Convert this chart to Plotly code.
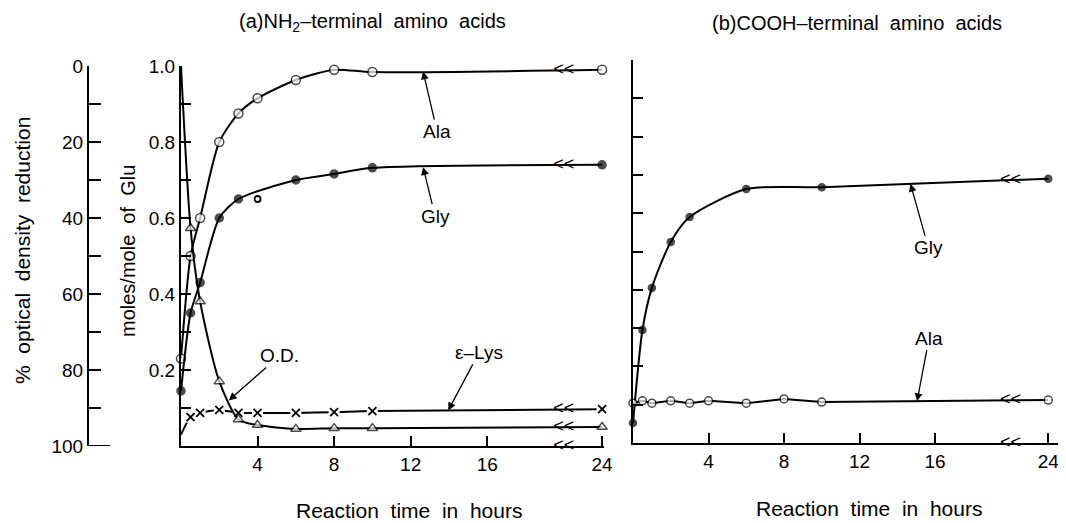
import numpy as np
import plotly.graph_objects as go

# ---- data ---------------------------------------------------------------
# (a) NH2-terminal amino acids, moles/mole of Glu
ALA_A_HOURS = [0, 0.5, 1, 2, 3, 4, 6, 8, 10, 24]
ALA_A = [0.23, 0.50, 0.60, 0.80, 0.875, 0.915, 0.963, 0.99, 0.984, 0.99]

GLY_A_HOURS = [0, 0.5, 1, 2, 3, 6, 8, 10, 24]
GLY_A = [0.145, 0.35, 0.43, 0.60, 0.65, 0.70, 0.716, 0.732, 0.74]
GLY_A_STRAY_HOURS = [4]
GLY_A_STRAY = [0.65]

LYS_HOURS = [0, 0.5, 1, 2, 3, 4, 6, 8, 10, 24]
LYS = [0.03, 0.076, 0.087, 0.095, 0.087, 0.087, 0.087, 0.089, 0.092, 0.097]

# (a) % optical density reduction (scale drawn on the far left)
OD_HOURS = [0, 0.5, 1, 2, 3, 4, 6, 8, 10, 24]
OD = [0, 42.7, 62, 83, 93, 94.5, 95.5, 95.3, 95.3, 95]

# (b) COOH-terminal amino acids
GLY_B_HOURS = [0, 0.5, 1, 2, 3, 6, 10, 24]
GLY_B = [0.052, 0.295, 0.405, 0.525, 0.59, 0.663, 0.668, 0.69]

ALA_B_HOURS = [0, 0.5, 1, 2, 3, 4, 6, 8, 10, 24]
ALA_B = [0.104, 0.11, 0.104, 0.11, 0.104, 0.11, 0.104, 0.115, 0.107, 0.112]

TICK_HOURS = [4, 8, 12, 16, 24]
MOLE_TICKS = [0.1, 0.2, 0.3, 0.4, 0.5, 0.6, 0.7, 0.8, 0.9, 1.0]
MOLE_LABELS = ["", "0.2", "", "0.4", "", "0.6", "", "0.8", "", "1.0"]
OD_TICKS = [0, 10, 20, 30, 40, 50, 60, 70, 80, 90, 100]
OD_LABELS = ["0", "", "20", "", "40", "", "60", "", "80", "", "100"]

# broken time axis: everything past BREAK_H is squeezed
BREAK_H = 20
SQUEEZE = 0.5
X_END_A = 22.1
X_END_B = 22.94

FONT = "Liberation Sans, Arial, sans-serif"
# page body keeps its default 8px margin, so the figure is shrunk to fit
OFF = 8
W, H = 1066 - OFF, 523 - OFF

# panel geometry (pixels in the 1066x523 window)
A_LEFT, A_RIGHT, A_TOP, A_BOTTOM = 181, 604, 66, 446
B_LEFT, B_TOP, B_BOTTOM = 633, 60, 443
OD_AXIS_X = 88
TICK_LEN = 10


def broken(hours):
    """Map real hours onto the broken x scale."""
    t = np.asarray(hours, dtype=float)
    return np.where(t <= BREAK_H, t, BREAK_H + (t - BREAK_H) * SQUEEZE)


def px_x(p):
    return (p - OFF) / W


def px_y(p):
    return 1 - (p - OFF) / H


fig = go.Figure()


def curve(hours, vals, xa, ya, symbol, size, fill, shape="spline",
          hide_first=False, line_w=1.5):
    sizes = [size] * len(hours)
    if hide_first:
        sizes[0] = 0
    fig.add_trace(go.Scatter(
        x=broken(hours), y=vals, xaxis=xa, yaxis=ya,
        mode="lines+markers",
        line=dict(color="black", width=2, shape=shape, smoothing=0.7),
        marker=dict(symbol=symbol, size=sizes, color=fill,
                    line=dict(color="black", width=line_w)),
        cliponaxis=False, showlegend=False, hoverinfo="skip",
    ))


# eps-Lys: line broken around each cross
fig.add_trace(go.Scatter(
    x=broken(LYS_HOURS), y=LYS, xaxis="x", yaxis="y", mode="lines",
    line=dict(color="black", width=2, shape="spline", smoothing=0.7),
    cliponaxis=False, showlegend=False, hoverinfo="skip"))
fig.add_trace(go.Scatter(
    x=broken(LYS_HOURS[1:]), y=LYS[1:], xaxis="x", yaxis="y", mode="markers",
    marker=dict(symbol="square", size=11, color="white"),
    cliponaxis=False, showlegend=False, hoverinfo="skip"))
fig.add_trace(go.Scatter(
    x=broken(LYS_HOURS[1:]), y=LYS[1:], xaxis="x", yaxis="y", mode="markers",
    marker=dict(symbol="x-thin", size=8, color="black",
                line=dict(color="black", width=1.8)),
    cliponaxis=False, showlegend=False, hoverinfo="skip"))

curve(OD_HOURS, OD, "x", "y2", "triangle-up", 9, "white", hide_first=True)
curve(ALA_A_HOURS, ALA_A, "x", "y", "circle", 9, "white")
curve(GLY_A_HOURS, GLY_A, "x", "y", "circle", 8, "black")
fig.add_trace(go.Scatter(
    x=broken(GLY_A_STRAY_HOURS), y=GLY_A_STRAY, xaxis="x", yaxis="y",
    mode="markers",
    marker=dict(symbol="circle", size=6, color="white",
                line=dict(color="black", width=1.8)),
    cliponaxis=False, showlegend=False, hoverinfo="skip"))

curve(GLY_B_HOURS, GLY_B, "x2", "y3", "circle", 7, "black")
curve(ALA_B_HOURS, ALA_B, "x2", "y3", "circle", 8, "white", shape="linear")

# "<<" break marks on every line and on both time axes
breaks = [
    (ALA_A_HOURS, ALA_A, "x", "y"), (GLY_A_HOURS, GLY_A, "x", "y"),
    (LYS_HOURS, LYS, "x", "y"), (OD_HOURS, OD, "x", "y2"),
    (GLY_B_HOURS, GLY_B, "x2", "y3"), (ALA_B_HOURS, ALA_B, "x2", "y3"),
]
brk_font = dict(size=18, family=FONT, color="black")
for hours, vals, xa, ya in breaks:
    yb = np.interp(BREAK_H, broken(hours), vals)
    fig.add_trace(go.Scatter(
        x=[BREAK_H], y=[yb], xaxis=xa, yaxis=ya, mode="text", text=["<<"],
        textfont=brk_font, cliponaxis=False, showlegend=False,
        hoverinfo="skip"))
for xa, ya in [("x", "y"), ("x2", "y3")]:
    fig.add_trace(go.Scatter(
        x=[BREAK_H], y=[0], xaxis=xa, yaxis=ya, mode="text", text=["<<"],
        textfont=brk_font, cliponaxis=False, showlegend=False,
        hoverinfo="skip"))

axis_common = dict(showline=True, linecolor="black", linewidth=2,
                   showgrid=False, zeroline=False, ticks="inside",
                   tickcolor="black", tickwidth=1.5, ticklen=TICK_LEN,
                   automargin=False, fixedrange=True,
                   tickfont=dict(size=19, family=FONT, color="black"))

tick_x = broken(TICK_HOURS).tolist()
tick_txt = [str(t) for t in TICK_HOURS]

fig.update_layout(
    template="none",
    width=W, height=H, autosize=False,
    margin=dict(l=0, r=0, t=0, b=0, pad=0),
    plot_bgcolor="white", paper_bgcolor="white",
    showlegend=False, dragmode=False, hovermode=False,
    font=dict(family=FONT, size=19, color="black"),
    xaxis=dict(axis_common, domain=[px_x(A_LEFT), px_x(A_RIGHT)],
               range=[0, X_END_A], anchor="y",
               tickvals=tick_x, ticktext=tick_txt),
    yaxis=dict(axis_common, domain=[px_y(A_BOTTOM), px_y(A_TOP)],
               range=[0, 1], anchor="x",
               tickvals=MOLE_TICKS, ticktext=MOLE_LABELS),
    yaxis2=dict(axis_common, domain=[px_y(A_BOTTOM), px_y(A_TOP)],
                range=[100, 0], overlaying="y", anchor="free",
                position=px_x(OD_AXIS_X), side="left",
                tickvals=OD_TICKS, ticktext=OD_LABELS, ticklen=12),
    xaxis2=dict(axis_common, domain=[px_x(B_LEFT), 1.0],
                range=[0, X_END_B], anchor="y3",
                tickvals=tick_x, ticktext=tick_txt),
    yaxis3=dict(axis_common, domain=[px_y(B_BOTTOM), px_y(B_TOP)],
                range=[0, 1], anchor="x2",
                tickvals=MOLE_TICKS, showticklabels=False),
)

# L-shaped foot of the optical density scale
fig.add_shape(type="line", xref="paper", yref="y2",
              x0=px_x(OD_AXIS_X), x1=px_x(110), y0=100, y1=100,
              line=dict(color="black", width=2))

ann_font = dict(size=19, family=FONT, color="black")


def label(text, tip_x, hours, vals, xa, ya, ax, ay):
    tip_y = float(np.interp(tip_x, broken(hours), vals))
    fig.add_annotation(x=tip_x, y=tip_y, xref=xa, yref=ya, text=text,
                       ax=ax, ay=ay, showarrow=True, arrowhead=2,
                       arrowsize=1.2, arrowwidth=1.3, arrowcolor="black",
                       standoff=0, font=ann_font)


label("Ala", 12.65, ALA_A_HOURS, ALA_A, "x", "y", 14, 60)
label("Gly", 12.65, GLY_A_HOURS, GLY_A, "x", "y", 12, 49)
label("O.D.", 2.5, OD_HOURS, OD, "x", "y2", 51, -45)
label("\u03b5\u2013Lys", 13.96, LYS_HOURS, LYS, "x", "y", 31, -58)
label("Gly", 14.7, GLY_B_HOURS, GLY_B, "x2", "y3", 18, 64)
label("Ala", 15.05, ALA_B_HOURS, ALA_B, "x2", "y3", 12, -63)

texts = [
    ("(a)NH<sub>2</sub>\u2013terminal  amino  acids", 372, 22, 0, 20),
    ("(b)COOH\u2013terminal  amino  acids", 857, 23, 0, 20),
    ("Reaction  time  in  hours", 409, 510, 0, 21),
    ("Reaction  time  in  hours", 869, 508, 0, 21),
    ("%  optical  density  reduction", 22, 251, -90, 21),
    ("moles/mole  of  Glu", 128, 251, -90, 20),
]
for txt, x, y, ang, size in texts:
    fig.add_annotation(x=px_x(x), y=px_y(y), xref="paper", yref="paper",
                       text=txt, showarrow=False, textangle=ang,
                       xanchor="center", yanchor="middle",
                       font=dict(ann_font, size=size))

fig.write_html("out.html")
